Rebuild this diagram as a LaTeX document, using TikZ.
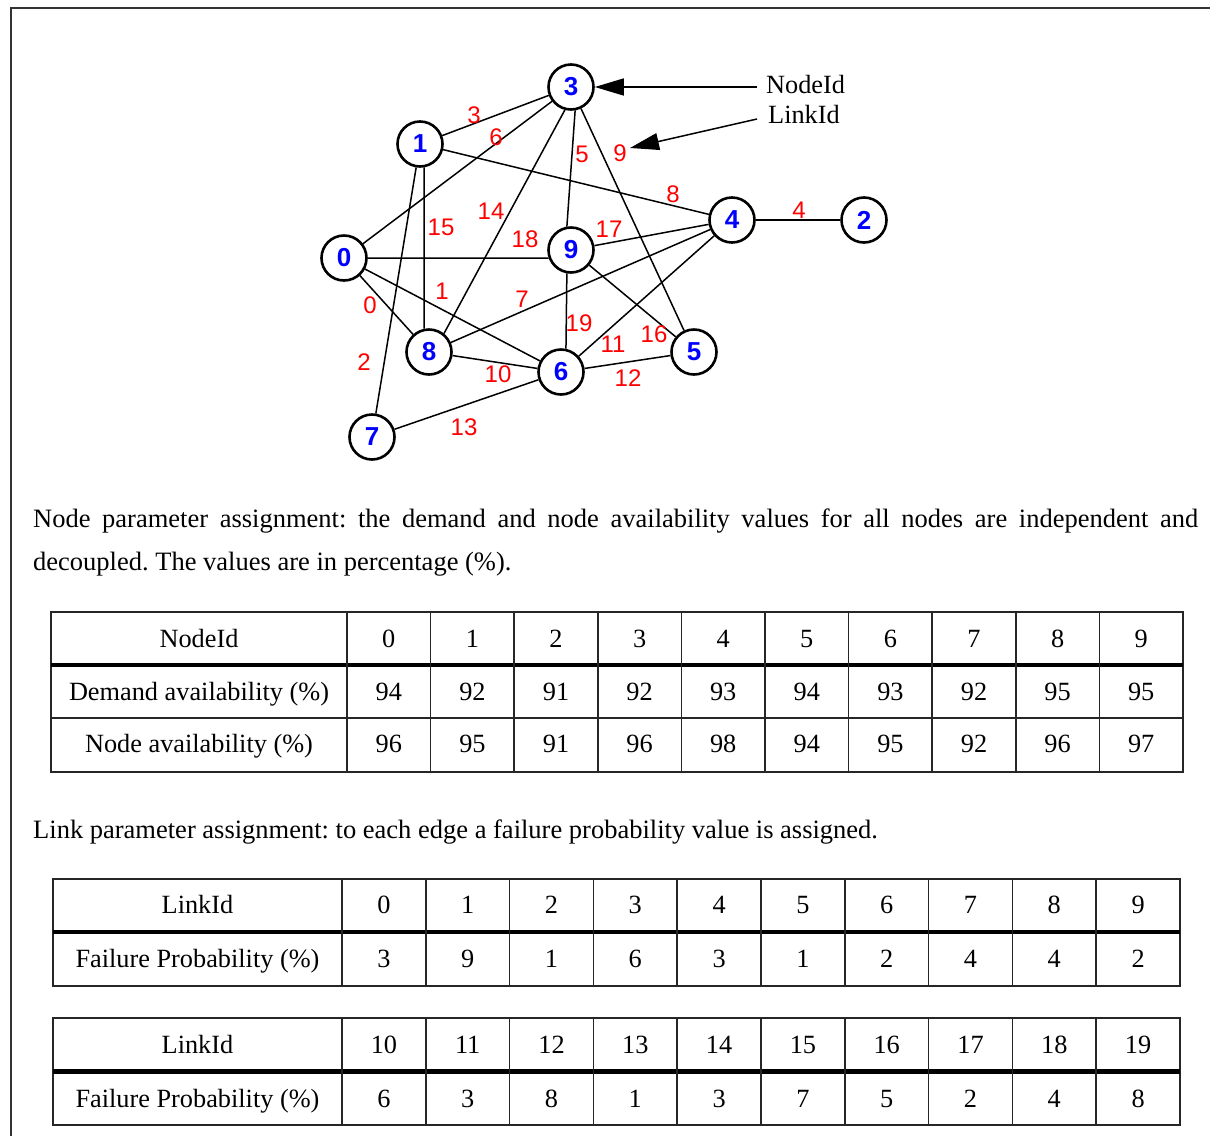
\documentclass[tikz,border=0pt]{standalone}
\usepackage{fontspec}
\setmainfont{Liberation Serif}
\newfontfamily\graphfont{Liberation Sans}
\usetikzlibrary{arrows.meta}
\frenchspacing
\begin{document}
\begin{tikzpicture}[x=1pt,y=-1pt,
  gnode/.style={circle,draw,line width=2.6pt,minimum size=45pt,inner sep=0pt,
    fill=white,text=blue,font=\graphfont\bfseries\fontsize{26}{26}\selectfont},
  edge/.style={line width=1.5pt},
  lid/.style={text=red,inner sep=0pt,font=\graphfont\fontsize{24}{24}\selectfont},
  pointer/.style={line width=1.5pt,-{Triangle[length=29pt,width=17pt]}},
  note/.style={anchor=base west,inner sep=0pt,font=\fontsize{26.3}{30}\selectfont},
  cell/.style={anchor=base,inner sep=0pt,font=\fontsize{26.3}{30}\selectfont},
  grid/.style={line width=1.6pt,black!85},
  thick rule/.style={line width=4.6pt},
  body/.style={anchor=base west,inner sep=0pt,font=\fontsize{26.5}{43}\selectfont}]
\useasboundingbox (0,0) rectangle (1210,1136);

% outer frame
\draw[line width=2pt,black!80] (10.5,1136) -- (10.5,7.5) -- (1210,7.5);

% ---------- network ----------
\node[gnode] (n0) at (344,258) {0};
\node[gnode] (n1) at (420,144) {1};
\node[gnode] (n2) at (864,220) {2};
\node[gnode] (n3) at (571,87) {3};
\node[gnode] (n4) at (732,220) {4};
\node[gnode] (n5) at (694,352) {5};
\node[gnode] (n6) at (561,372) {6};
\node[gnode] (n7) at (372,437) {7};
\node[gnode] (n8) at (429,352) {8};
\node[gnode] (n9) at (571,250) {9};

\draw[edge] (n0) -- (n8);
\draw[edge] (n0) -- (n6);
\draw[edge] (n7) -- (n1);
\draw[edge] (n1) -- (n3);
\draw[edge] (n4) -- (n2);
\draw[edge] (n3.-80) -- (n9.100);
\draw[edge] (n0) -- (n3);
\draw[edge] (n8) -- (n4);
\draw[edge] (n1) -- (n4);
\draw[edge] (n3) -- (n5);
\draw[edge] (n8) -- (n6);
\draw[edge] (n6) -- (n4);
\draw[edge] (n6) -- (n5);
\draw[edge] (n7) -- (n6);
\draw[edge] (n3.255) -- (n8.51);
\draw[edge] (n1.-80) -- (n8.102);
\draw[edge] (n9) -- (n5);
\draw[edge] (n9) -- (n4);
\draw[edge] (n0.east) -- (n9.200);
\draw[edge] (n9.260) -- (n6.78);

% link identifiers
\node[lid] (l0)  at (370,305) {0};
\node[lid] (l1)  at (442,291) {1};
\node[lid] (l2)  at (364,362) {2};
\node[lid] (l3)  at (474,115) {3};
\node[lid] (l4)  at (799,210) {4};
\node[lid] (l5)  at (582,154) {5};
\node[lid] (l6)  at (496,137) {6};
\node[lid] (l7)  at (522,299) {7};
\node[lid] (l8)  at (673,194) {8};
\node[lid] (l9)  at (620,153) {9};
\node[lid] (l10) at (498,374) {10};
\node[lid] (l11) at (613,344) {11};
\node[lid] (l12) at (628,378) {12};
\node[lid] (l13) at (464,427) {13};
\node[lid] (l14) at (491,211) {14};
\node[lid] (l15) at (441,227) {15};
\node[lid] (l16) at (654,334) {16};
\node[lid] (l17) at (609,229) {17};
\node[lid] (l18) at (525,239) {18};
\node[lid] (l19) at (579,323) {19};

% legend pointers
\node[note] (kn) at (766,93) {NodeId};
\node[note] (kl) at (768,123) {LinkId};
\coordinate (knfrom) at (757,87);
\coordinate (klfrom) at (757,119);
\coordinate (klto) at (630,148);
\draw[pointer] (knfrom) -- (n3);
\draw[pointer] (klfrom) -- (klto);

% ---------- text ----------
\node[body] (p1) at (33,527) {\makebox[1165pt][s]{Node parameter assignment: the demand and node availability values for all nodes are independent and}};
\node[body] (p2) at (33,570) {decoupled. The values are in percentage (\%).};
\node[body] (p3) at (33,838) {Link parameter assignment: to each edge a failure probability value is assigned.};

% ---------- node table ----------
\draw[grid] (51,612) rectangle (1183,772);
\draw[grid] (51,718) -- (1183,718);
\draw[thick rule] (51,665) -- (1183,665);
\foreach \k in {0,...,9} \draw[grid] ({347+\k*83.6},612) -- ({347+\k*83.6},772);
\node[cell] (ta-h) at (199,647) {NodeId};
\node[cell] (ta-d) at (199,700) {Demand availability (\%)};
\node[cell] (ta-n) at (199,752) {Node availability (\%)};
\foreach \v [count=\k from 0] in {0,1,2,3,4,5,6,7,8,9}
  \node[cell] (ta-h\k) at ({347+(\k+0.5)*83.6},647) {\v};
\foreach \v [count=\k from 0] in {94,92,91,92,93,94,93,92,95,95}
  \node[cell] (ta-d\k) at ({347+(\k+0.5)*83.6},700) {\v};
\foreach \v [count=\k from 0] in {96,95,91,96,98,94,95,92,96,97}
  \node[cell] (ta-n\k) at ({347+(\k+0.5)*83.6},752) {\v};

% ---------- link tables ----------
\draw[grid] (53,879) rectangle (1180,986);
\draw[thick rule] (53,932) -- (1180,932);
\foreach \k in {0,...,9} \draw[grid] ({342+\k*83.8},879) -- ({342+\k*83.8},986);
\node[cell] (tb-h) at (197.5,913) {LinkId};
\node[cell] (tb-f) at (197.5,967) {Failure Probability (\%)};
\foreach \v [count=\k from 0] in {0,1,2,3,4,5,6,7,8,9}
  \node[cell] (tb-h\k) at ({342+(\k+0.5)*83.8},913) {\v};
\foreach \v [count=\k from 0] in {3,9,1,6,3,1,2,4,4,2}
  \node[cell] (tb-f\k) at ({342+(\k+0.5)*83.8},967) {\v};

\draw[grid] (53,1018) rectangle (1180,1125);
\draw[thick rule] (53,1071.5) -- (1180,1071.5);
\foreach \k in {0,...,9} \draw[grid] ({342+\k*83.8},1018) -- ({342+\k*83.8},1125);
\node[cell] (tc-h) at (197.5,1053) {LinkId};
\node[cell] (tc-f) at (197.5,1107) {Failure Probability (\%)};
\foreach \v [count=\k from 0] in {10,11,12,13,14,15,16,17,18,19}
  \node[cell] (tc-h\k) at ({342+(\k+0.5)*83.8},1053) {\v};
\foreach \v [count=\k from 0] in {6,3,8,1,3,7,5,2,4,8}
  \node[cell] (tc-f\k) at ({342+(\k+0.5)*83.8},1107) {\v};
\end{tikzpicture}
\end{document}
